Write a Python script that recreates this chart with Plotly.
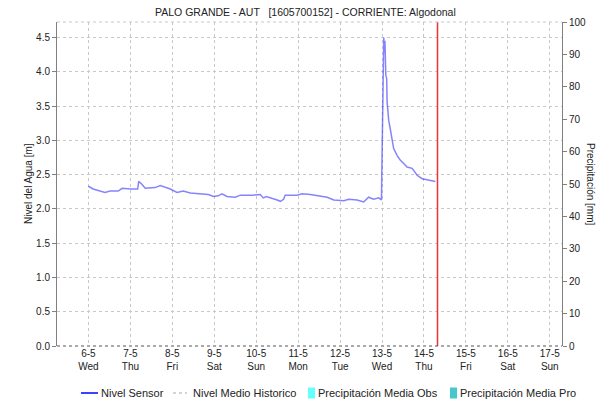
import plotly.graph_objects as go

# ---------------- data ----------------
sensor_time = [
    "2020-05-06 00:00", "2020-05-06 02:40", "2020-05-06 09:30", "2020-05-06 12:25",
    "2020-05-06 17:00", "2020-05-06 19:20", "2020-05-07 00:00", "2020-05-07 03:45",
    "2020-05-07 04:10", "2020-05-07 04:45", "2020-05-07 06:35", "2020-05-07 08:30",
    "2020-05-07 11:20", "2020-05-07 14:10", "2020-05-07 17:05", "2020-05-07 19:55",
    "2020-05-07 22:50", "2020-05-08 02:40", "2020-05-08 06:15", "2020-05-08 10:15",
    "2020-05-08 16:00", "2020-05-08 20:35", "2020-05-08 23:30", "2020-05-09 02:15",
    "2020-05-09 04:25", "2020-05-09 07:15", "2020-05-09 12:00", "2020-05-09 14:55",
    "2020-05-09 22:20", "2020-05-10 02:15", "2020-05-10 04:05", "2020-05-10 05:45",
    "2020-05-10 12:00", "2020-05-10 13:50", "2020-05-10 15:40", "2020-05-10 16:35",
    "2020-05-10 23:20", "2020-05-11 02:15", "2020-05-11 07:00", "2020-05-11 12:45",
    "2020-05-11 16:35", "2020-05-11 20:25", "2020-05-12 02:10", "2020-05-12 04:55",
    "2020-05-12 09:45", "2020-05-12 13:30", "2020-05-12 16:20", "2020-05-12 19:10",
    "2020-05-12 22:05", "2020-05-12 23:40", "2020-05-13 00:00", "2020-05-13 00:30",
    "2020-05-13 01:00", "2020-05-13 01:20", "2020-05-13 01:40", "2020-05-13 02:10",
    "2020-05-13 02:40", "2020-05-13 02:55", "2020-05-13 03:50", "2020-05-13 04:50",
    "2020-05-13 05:45", "2020-05-13 06:40", "2020-05-13 08:35", "2020-05-13 10:30",
    "2020-05-13 12:25", "2020-05-13 14:20", "2020-05-13 17:15", "2020-05-13 20:05",
    "2020-05-13 23:00", "2020-05-14 02:40", "2020-05-14 06:30",
]
sensor_level = [
    2.33, 2.29, 2.24, 2.26,
    2.26, 2.30, 2.29, 2.29,
    2.29, 2.40, 2.36, 2.30,
    2.30, 2.31, 2.34, 2.32,
    2.29, 2.24, 2.26, 2.23,
    2.22, 2.21, 2.18, 2.19,
    2.22, 2.18, 2.17, 2.20,
    2.20, 2.21, 2.16, 2.18,
    2.13, 2.11, 2.14, 2.20,
    2.20, 2.22, 2.21, 2.18,
    2.17, 2.13, 2.12, 2.14,
    2.13, 2.10, 2.17, 2.14,
    2.16, 2.13, 2.71, 3.90,
    4.50, 4.28, 4.45, 3.95,
    3.90, 3.56, 3.29, 3.15,
    3.00, 2.88, 2.78, 2.71,
    2.66, 2.61, 2.59, 2.49,
    2.44, 2.42, 2.40,
]

days = ["2020-05-06", "2020-05-07", "2020-05-08", "2020-05-09", "2020-05-10", "2020-05-11",
        "2020-05-12", "2020-05-13", "2020-05-14", "2020-05-15", "2020-05-16", "2020-05-17"]
day_labels = ["6-5", "7-5", "8-5", "9-5", "10-5", "11-5", "12-5", "13-5", "14-5", "15-5", "16-5", "17-5"]
weekday_labels = ["Wed", "Thu", "Fri", "Sat", "Sun", "Mon", "Tue", "Wed", "Thu", "Fri", "Sat", "Sun"]

historic_level = [None] * len(days)
precip_obs = [0] * len(days)
precip_pro = [0] * len(days)

now_time = "2020-05-14 07:45"
x_range = ["2020-05-05 06:00", "2020-05-17 07:00"]

title_text = "PALO GRANDE - AUT \u00a0 [1605700152] - CORRIENTE: Algodonal"
legend_names = ["Nivel Sensor", "Nivel Medio Historico", "Precipitación Media Obs", "Precipitación Media Pro"]

# ---------------- figure ----------------
FONT = "Liberation Sans, Arial, sans-serif"
W, H = 610, 401
ML, MR, MT, MB = 57, 48, 22, 55
PW, PH = W - ML - MR, H - MT - MB


def px2paper(px, py):
    return (px - ML) / PW, (H - MB - py) / PH


fig = go.Figure()

fig.add_trace(go.Bar(x=days, y=precip_obs, name=legend_names[2], yaxis="y2",
                     marker=dict(color="#66FFFF", line=dict(width=0)), showlegend=False))
fig.add_trace(go.Bar(x=days, y=precip_pro, name=legend_names[3], yaxis="y2",
                     marker=dict(color="#44C8C8", line=dict(width=0)), showlegend=False))
fig.add_trace(go.Scatter(x=days, y=historic_level, name=legend_names[1], mode="lines",
                         line=dict(color="#c8c8c8", width=1, dash="dot"), showlegend=False))
fig.add_trace(go.Scatter(x=sensor_time, y=sensor_level, name=legend_names[0], mode="lines",
                         line=dict(color="rgba(50,50,255,0.6)", width=1.5), showlegend=False))
# current time marker line (vertical, full height of precipitation axis)
fig.add_trace(go.Scatter(x=[now_time, now_time], y=[0, 100], yaxis="y2", mode="lines",
                         line=dict(color="rgb(240,50,50)", width=1.5), hoverinfo="skip",
                         showlegend=False))

ticktext = [f"{a}<br>{b}" for a, b in zip(day_labels, weekday_labels)]

fig.update_layout(
    width=W, height=H,
    margin=dict(l=ML, r=MR, t=MT, b=MB, pad=0, autoexpand=False),
    paper_bgcolor="white", plot_bgcolor="white",
    font=dict(family=FONT, size=10, color="#222"),
    showlegend=False,
    barmode="group",
    xaxis=dict(
        type="date", range=x_range,
        tickmode="array", tickvals=days, ticktext=ticktext,
        showgrid=True, gridcolor="#c8c8c8", griddash="dot", gridwidth=1,
        ticks="", showline=False, zeroline=False,
        tickfont=dict(size=10, color="#222"),
    ),
    yaxis=dict(
        range=[0, 4.725], dtick=0.5, tick0=0, tickformat=".1f",
        showgrid=True, gridcolor="#c8c8c8", griddash="dot", gridwidth=1,
        ticks="outside", ticklen=4, tickcolor="#808080",
        showline=True, linecolor="#808080", linewidth=1,
        zeroline=False, tickfont=dict(size=10, color="#222"),
    ),
    yaxis2=dict(
        range=[0, 100], overlaying="y", side="right",
        tickmode="array", tickvals=list(range(0, 101, 10)),
        showgrid=False, ticks="outside", ticklen=4, tickcolor="#808080",
        showline=True, linecolor="#808080", linewidth=1,
        zeroline=False, tickfont=dict(size=10, color="#222"),
    ),
)

shapes = []
# bottom dotted axis line
shapes.append(dict(type="line", xref="paper", yref="paper", x0=0, x1=1, y0=0, y1=0,
                   line=dict(color="#555", width=1, dash="dot")))
# top border
shapes.append(dict(type="line", xref="paper", yref="paper", x0=0, x1=1, y0=1, y1=1,
                   line=dict(color="#c8c8c8", width=1, dash="dot")))

annotations = []
# title
annotations.append(dict(text=title_text, xref="paper", yref="paper",
                        x=px2paper(305, 0)[0], y=px2paper(0, 12)[1], xanchor="center", yanchor="middle",
                        showarrow=False, font=dict(size=10.5, color="#222")))
# axis titles
annotations.append(dict(text="Nivel del Agua [m]", xref="paper", yref="paper",
                        x=px2paper(28, 0)[0], y=px2paper(0, 184)[1], xanchor="center", yanchor="middle",
                        textangle=-90, showarrow=False, font=dict(size=10, color="#222")))
annotations.append(dict(text="Precipitación [mm]", xref="paper", yref="paper",
                        x=px2paper(591, 0)[0], y=px2paper(0, 184)[1], xanchor="center", yanchor="middle",
                        textangle=90, showarrow=False, font=dict(size=10, color="#222")))

# manual legend
ly = 393
_, lyp = px2paper(0, ly)
x0a, _ = px2paper(81, 0); x1a, _ = px2paper(98, 0)
shapes.append(dict(type="line", xref="paper", yref="paper", x0=x0a, x1=x1a, y0=lyp, y1=lyp,
                   line=dict(color="#0000FF", width=1.5)))
x0b, _ = px2paper(173, 0); x1b, _ = px2paper(187, 0)
shapes.append(dict(type="line", xref="paper", yref="paper", x0=x0b, x1=x1b, y0=lyp, y1=lyp,
                   line=dict(color="#c8c8c8", width=1.5, dash="dot")))
for (bx0, bx1, col) in [(308, 315, "#66FFFF"), (450, 457, "#44C8C8")]:
    a, ya = px2paper(bx0, ly - 5.5)
    b, yb = px2paper(bx1, ly + 5.5)
    shapes.append(dict(type="rect", xref="paper", yref="paper", x0=a, x1=b, y0=yb, y1=ya,
                       line=dict(width=0), fillcolor=col))
for tx, name in zip([101, 193, 318, 460], legend_names):
    annotations.append(dict(text=name, xref="paper", yref="paper",
                            x=px2paper(tx, 0)[0], y=lyp, xanchor="left", yanchor="middle",
                            showarrow=False, xshift=-2, font=dict(size=11, color="#222")))

fig.update_layout(shapes=shapes, annotations=annotations)

fig.write_html("out.html", config={"displayModeBar": False},
               post_script="document.body.style.margin='0';document.body.style.padding='0';")
